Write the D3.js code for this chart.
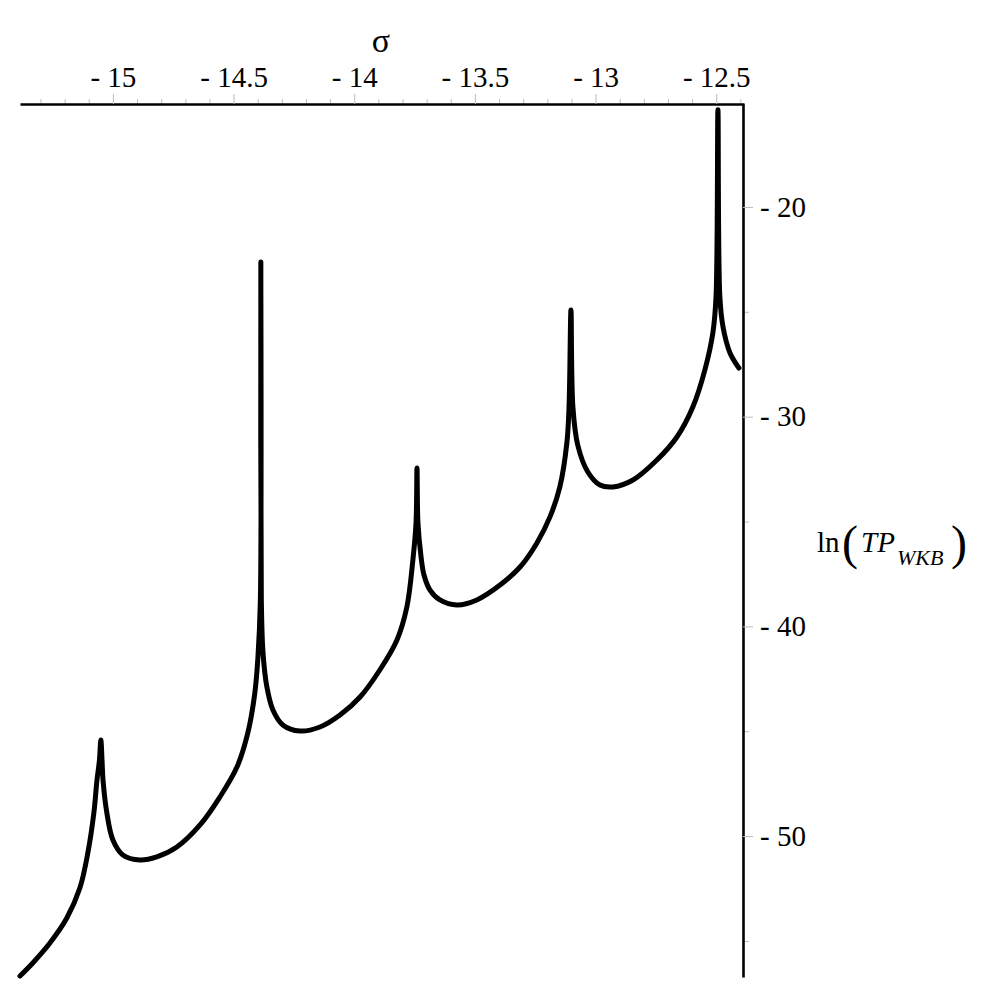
<!DOCTYPE html>
<meta charset="utf-8">
<title>ln(TP_WKB) vs sigma</title>
<style>
body {
  margin: 0;
  background-color: white;
}
.tick line {
  stroke: #bdbdbd;
  stroke-width: 1px;
}
.domain {
  stroke: black;
  stroke-width: 2.6px;
}
</style>
<body>
<script src="https://d3js.org/d3.v7.min.js"></script>
<script>
// curve
var sigma = [
  -15.385, -15.332, -15.261, -15.191, -15.137, -15.104, -15.079, -15.066, -15.056, -15.050,
  -15.045, -15.041, -15.025, -15.000, -14.959, -14.888, -14.818, -14.735, -14.639, -14.557,
  -14.486, -14.441, -14.412, -14.399, -14.389, -14.387, -14.385, -14.378, -14.362, -14.337,
  -14.296, -14.225, -14.142, -14.059, -13.976, -13.894, -13.823, -13.782, -13.757, -13.744,
  -13.740, -13.736, -13.724, -13.711, -13.686, -13.645, -13.574, -13.492, -13.396, -13.313,
  -13.243, -13.189, -13.148, -13.119, -13.110, -13.102, -13.094, -13.074, -13.032, -12.982,
  -12.928, -12.845, -12.746, -12.663, -12.597, -12.547, -12.514, -12.501, -12.493, -12.485,
  -12.472, -12.443, -12.406
];
var lnTP = [
  -56.67, -56.05, -55.10, -53.91, -52.48, -50.81, -48.90, -47.33, -46.40, -45.42,
  -46.40, -47.33, -48.90, -50.19, -50.90, -51.14, -50.99, -50.52, -49.47, -48.14,
  -46.71, -45.08, -43.18, -41.46, -38.74, -22.62, -38.74, -41.27, -42.89, -43.99,
  -44.70, -44.99, -44.80, -44.23, -43.37, -42.08, -40.65, -39.08, -36.83, -35.07,
  -32.45, -35.07, -36.60, -37.55, -38.27, -38.74, -38.98, -38.74, -38.03, -37.17,
  -36.02, -34.78, -33.35, -31.25, -29.54, -24.91, -29.54, -31.35, -32.64, -33.26,
  -33.35, -33.02, -32.07, -30.97, -29.54, -27.77, -26.01, -24.29, -15.37, -24.29,
  -25.72, -26.96, -27.68
];

// tick values
var xMajor = [-15, -14.5, -14, -13.5, -13, -12.5];
var xMinor = [-15.3, -15.2, -15.1, -14.9, -14.8, -14.7, -14.6, -14.4, -14.3, -14.2, -14.1,
              -13.9, -13.8, -13.7, -13.6, -13.4, -13.3, -13.2, -13.1, -12.9, -12.8, -12.7,
              -12.6, -12.4];
var yMajor = [-20, -30, -40, -50];
var yMinor = [-25, -35, -45, -55];

var width = 997,
    height = 997;

var serif = "Liberation Serif, Times New Roman, DejaVu Serif, serif";

var svg = d3.select("body").append("svg")
    .attr("width", width)
    .attr("height", height)
    .style("background", "white");

var x = d3.scaleLinear()
    .domain([-15.385, -12.385])
    .range([20, 744]);

var y = d3.scaleLinear()
    .domain([-15.09, -56.72])
    .range([104, 977]);

var fmt = function(d) { return "- " + Math.abs(d); };

// minor ticks first so the axis lines sit on top
svg.append("g")
    .attr("transform", "translate(0,104)")
    .call(d3.axisTop(x).tickValues(xMinor).tickSize(5).tickFormat(""))
    .select(".domain").remove();

svg.append("g")
    .attr("transform", "translate(743,0)")
    .call(d3.axisRight(y).tickValues(yMinor).tickSize(6).tickFormat(""))
    .select(".domain").remove();

// x axis on top
var xAxis = svg.append("g")
    .attr("transform", "translate(0,104)")
    .call(d3.axisTop(x).tickValues(xMajor).tickSize(10).tickSizeOuter(0)
          .tickPadding(7).tickFormat(fmt));

// y axis on the right
var yAxis = svg.append("g")
    .attr("transform", "translate(743,0)")
    .call(d3.axisRight(y).tickValues(yMajor).tickSize(10).tickSizeOuter(0)
          .tickPadding(7).tickFormat(fmt));

[xAxis, yAxis].forEach(function(g) {
  g.attr("font-family", serif).attr("font-size", 29);
  g.selectAll("text")
    .attr("font-family", serif)
    .attr("font-size", 29)
    .attr("fill", "black");
});

// the curve
var line = d3.line()
    .x(function(d) { return x(d[0]); })
    .y(function(d) { return y(d[1]); })
    .curve(d3.curveCatmullRom.alpha(0.5));

svg.append("path")
    .datum(d3.zip(sigma, lnTP))
    .attr("d", line)
    .attr("fill", "none")
    .attr("stroke", "black")
    .attr("stroke-width", 5)
    .attr("stroke-linejoin", "round")
    .attr("stroke-linecap", "round");

// axis titles
svg.append("text")
    .attr("x", 381)
    .attr("y", 52)
    .attr("text-anchor", "middle")
    .attr("font-family", serif)
    .attr("font-size", 34)
    .text("σ");

var ylab = svg.append("g").attr("font-family", serif).attr("fill", "black");

ylab.append("text")
    .attr("x", 817)
    .attr("y", 552)
    .attr("font-size", 29)
    .text("ln");

ylab.append("text")
    .attr("x", 842)
    .attr("y", 559)
    .attr("font-size", 48)
    .text("(");

ylab.append("text")
    .attr("x", 861)
    .attr("y", 552)
    .attr("font-size", 29)
    .attr("font-style", "italic")
    .text("TP");

ylab.append("text")
    .attr("x", 897)
    .attr("y", 565)
    .attr("font-size", 22)
    .attr("font-style", "italic")
    .text("WKB");

ylab.append("text")
    .attr("x", 951)
    .attr("y", 559)
    .attr("font-size", 48)
    .text(")");
</script>
</body>
</html>
